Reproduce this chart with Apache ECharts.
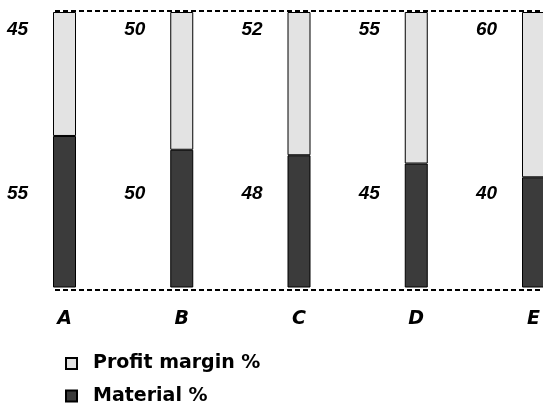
<!DOCTYPE html>
<html>
<head>
<meta charset="utf-8">
<script src="https://cdn.jsdelivr.net/npm/echarts@6/dist/echarts.min.js"></script>
<style>
  html, body { margin: 0; padding: 0; background: #fff; }
  #chart { width: 543px; height: 408px; }
</style>
</head>
<body>
<div id="chart"></div>
<script>
// Cost split per product: material share at the bottom, profit margin on top
const categories = ['A', 'B', 'C', 'D', 'E'];
const materialPct = [55, 50, 48, 45, 40];
const profitPct = [45, 50, 52, 55, 60];

const chart = echarts.init(document.getElementById('chart'), null, { renderer: 'canvas' });

const valueLabel = {
  show: true,
  formatter: '{c}',
  distance: 0,
  align: 'center',
  verticalAlign: 'middle',
  fontFamily: 'Liberation Sans, Arial, sans-serif',
  fontStyle: 'italic',
  fontWeight: 'bold',
  fontSize: 19,
  color: '#000'
};

chart.setOption({
  animation: false,
  backgroundColor: '#ffffff',
  grid: [
    // bars
    { left: 64.5, right: 7, top: 12, bottom: 120.5 },
    // dashed frame lines at 0% and 100%
    { left: 55, right: 0, top: 11, bottom: 118 }
  ],
  xAxis: [
    {
      type: 'category',
      gridIndex: 0,
      data: categories,
      boundaryGap: false,
      axisLine: { show: false },
      axisTick: { show: false },
      axisLabel: {
        margin: 22,
        fontFamily: 'DejaVu Sans, sans-serif',
        fontWeight: 'bold',
        fontStyle: 'italic',
        fontSize: 19,
        color: '#000'
      }
    },
    { type: 'value', gridIndex: 1, min: 0, max: 1, show: false }
  ],
  yAxis: [
    { type: 'value', gridIndex: 0, min: 0, max: 100, show: false },
    {
      type: 'value',
      gridIndex: 1,
      min: 0,
      max: 100,
      interval: 100,
      axisLine: { show: false },
      axisTick: { show: false },
      axisLabel: { show: false },
      splitLine: {
        show: true,
        lineStyle: { type: [5, 3], color: '#000', width: 2 }
      }
    }
  ],
  legend: {
    orient: 'vertical',
    left: 65,
    top: 354,
    height: 54,
    padding: 0,
    icon: 'rect',
    itemWidth: 11,
    itemHeight: 11,
    itemGap: 13.5,
    selectedMode: false,
    data: ['Profit margin %', 'Material %'],
    textStyle: {
      fontFamily: 'DejaVu Sans, sans-serif',
      fontWeight: 'bold',
      fontSize: 19,
      lineHeight: 17,
      color: '#000',
      padding: [0, 0, 0, 11]
    }
  },
  series: [
    {
      name: 'Material %',
      type: 'bar',
      stack: 'total',
      barWidth: 23,
      xAxisIndex: 0,
      yAxisIndex: 0,
      data: materialPct,
      itemStyle: { color: '#3b3b3b', borderColor: '#000', borderWidth: 1 },
      label: Object.assign({}, valueLabel, { position: 'insideBottom', offset: [-47, -93.5] })
    },
    {
      name: 'Profit margin %',
      type: 'bar',
      stack: 'total',
      barWidth: 23,
      xAxisIndex: 0,
      yAxisIndex: 0,
      data: profitPct,
      itemStyle: { color: '#e3e3e3', borderColor: '#000', borderWidth: 1 },
      label: Object.assign({}, valueLabel, { position: 'insideTop', offset: [-47, 17.5] })
    }
  ]
});
</script>
</body>
</html>
